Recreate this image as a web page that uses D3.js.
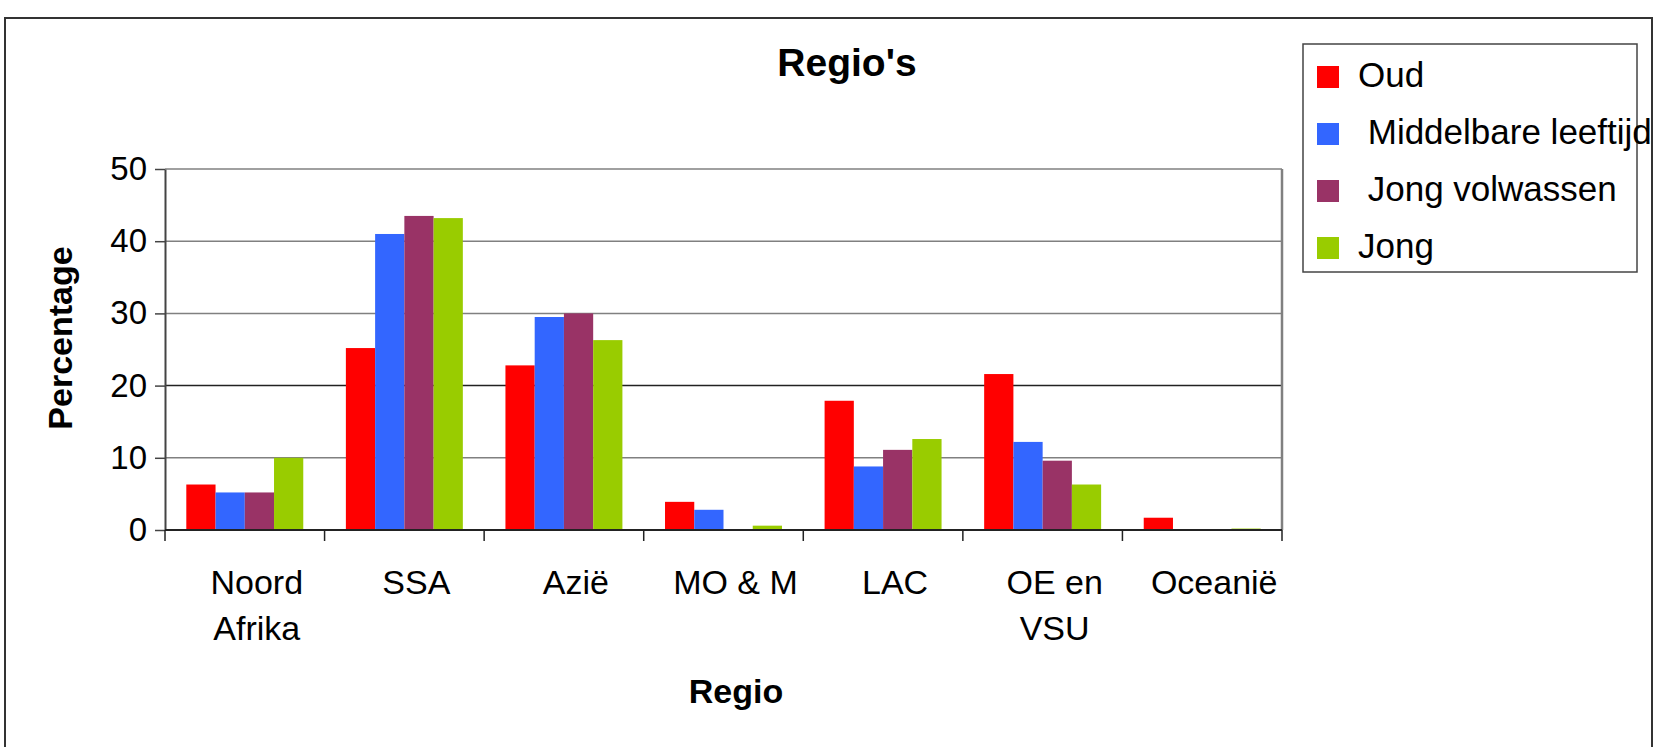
<!DOCTYPE html>
<html>
<head>
<meta charset="utf-8">
<script src="https://cdn.jsdelivr.net/npm/d3@7"></script>
<style>
  body { margin: 0; background: #fff; }
  svg text { font-family: "Liberation Sans", Arial, sans-serif; fill: #000; white-space: pre; }
</style>
</head>
<body>
<script>
// regio's, percentages per leeftijdsgroep
var categories = ["Noord\nAfrika", "SSA", "Azië", "MO & M", "LAC", "OE en\nVSU", "Oceanië"];
var seriesNames = ["Oud", " Middelbare leeftijd", " Jong volwassen", "Jong"];
var oud = [6.3, 25.2, 22.8, 3.9, 17.9, 21.6, 1.7];
var middelbaar = [5.2, 41.0, 29.5, 2.8, 8.8, 12.2, 0];
var jongVolwassen = [5.2, 43.5, 30.0, 0, 11.1, 9.6, 0];
var jong = [10.0, 43.2, 26.3, 0.6, 12.6, 6.3, 0.2];
var yTicks = [0, 10, 20, 30, 40, 50];
var colors = ["#ff0000", "#3366ff", "#993366", "#99cc00"];

var allSeries = [oud, middelbaar, jongVolwassen, jong];

var svg = d3.select("body").append("svg")
    .attr("width", 1661)
    .attr("height", 747);

// outer frame
svg.append("rect")
    .attr("x", 5).attr("y", 18)
    .attr("width", 1647).attr("height", 760)
    .attr("fill", "none")
    .attr("stroke", "#333")
    .attr("stroke-width", 2);

var x = d3.scaleBand()
    .domain(categories)
    .range([165, 1282])
    .paddingInner(0.267)
    .paddingOuter(0.1335);

var xInner = d3.scaleBand()
    .domain(d3.range(allSeries.length))
    .range([0, x.bandwidth()]);

var y = d3.scaleLinear()
    .domain([0, 50])
    .range([530, 169]);

drawGrid();
drawBars();
drawAxes();
drawLegend();
drawTitles();

function drawGrid(){
    svg.selectAll("line.grid").data(yTicks.slice(1)).enter().append("line")
        .attr("class", "grid")
        .attr("x1", 165).attr("x2", 1282)
        .attr("y1", function(d){ return y(d); })
        .attr("y2", function(d){ return y(d); })
        .attr("stroke", function(d){
            if(d === 20){
                return "#222";
            } else return "#808080";
        })
        .attr("stroke-width", 1.5);
    // right edge of the plot area
    svg.append("line")
        .attr("x1", 1282).attr("x2", 1282)
        .attr("y1", y(50)).attr("y2", y(0))
        .attr("stroke", "#808080")
        .attr("stroke-width", 2.5);
}

function drawBars(){
    var groups = svg.selectAll("g.cat").data(categories).enter().append("g")
        .attr("class", "cat")
        .attr("transform", function(d){ return "translate(" + x(d) + ",0)"; });
    groups.selectAll("rect").data(function(d, i){
            return allSeries.map(function(s, k){ return { k: k, v: s[i] }; });
        }).enter().append("rect")
        .attr("x", function(d){ return xInner(d.k); })
        .attr("width", xInner.bandwidth())
        .attr("y", function(d){ return y(d.v); })
        .attr("height", function(d){ return y(0) - y(d.v); })
        .attr("fill", function(d){ return colors[d.k]; });
}

function drawAxes(){
    var yAxis = svg.append("g")
        .attr("transform", "translate(165,0)")
        .call(d3.axisLeft(y).tickValues(yTicks).tickSize(10).tickPadding(8).tickSizeOuter(0));
    yAxis.select(".domain").attr("stroke", "#444").attr("stroke-width", 2);
    yAxis.selectAll(".tick line").attr("stroke", "#444").attr("stroke-width", 1.5);
    yAxis.selectAll(".tick text")
        .attr("font-size", 33)
        .attr("font-family", "Liberation Sans, Arial, sans-serif")
        .attr("fill", "#000");

    // x axis line with ticks at band edges
    var edges = categories.map(function(d){ return x(d) - x.step() * x.paddingInner() / 2; });
    edges.push(1282);
    svg.append("line")
        .attr("x1", 165).attr("x2", 1282)
        .attr("y1", y(0)).attr("y2", y(0))
        .attr("stroke", "#222").attr("stroke-width", 2);
    svg.selectAll("line.xtick").data(edges).enter().append("line")
        .attr("class", "xtick")
        .attr("x1", function(d){ return d; })
        .attr("x2", function(d){ return d; })
        .attr("y1", y(0)).attr("y2", y(0) + 11)
        .attr("stroke", "#222").attr("stroke-width", 1.5);

    var labels = svg.selectAll("text.cat").data(categories).enter().append("text")
        .attr("class", "cat")
        .attr("text-anchor", "middle")
        .attr("font-size", 34)
        .attr("x", function(d){ return x(d) + x.bandwidth() / 2 + 12; })
        .attr("y", 594);
    labels.selectAll("tspan").data(function(d){ return d.split("\n"); }).enter().append("tspan")
        .attr("x", function(){ return d3.select(this.parentNode).attr("x"); })
        .attr("dy", function(d, i){ return i === 0 ? 0 : 46; })
        .text(function(d){ return d; });
}

function drawLegend(){
    svg.append("rect")
        .attr("x", 1303).attr("y", 44)
        .attr("width", 334).attr("height", 228)
        .attr("fill", "#fff")
        .attr("stroke", "#444")
        .attr("stroke-width", 1.5);
    var items = svg.selectAll("g.leg").data(seriesNames).enter().append("g")
        .attr("class", "leg")
        .attr("transform", function(d, i){ return "translate(1317," + (77 + i * 57) + ")"; });
    items.append("rect")
        .attr("x", 0).attr("y", -11)
        .attr("width", 22).attr("height", 22)
        .attr("fill", function(d, i){ return colors[i]; });
    items.append("text")
        .attr("x", 41).attr("y", 10)
        .attr("font-size", 35)
        .text(function(d){ return d; });
}

function drawTitles(){
    svg.append("text")
        .attr("x", 847).attr("y", 76)
        .attr("text-anchor", "middle")
        .attr("font-size", 39)
        .attr("font-weight", "bold")
        .text("Regio's");
    svg.append("text")
        .attr("x", 736).attr("y", 703)
        .attr("text-anchor", "middle")
        .attr("font-size", 34)
        .attr("font-weight", "bold")
        .text("Regio");
    svg.append("text")
        .attr("transform", "translate(72,338) rotate(-90)")
        .attr("text-anchor", "middle")
        .attr("font-size", 34)
        .attr("font-weight", "bold")
        .text("Percentage");
}
</script>
</body>
</html>
